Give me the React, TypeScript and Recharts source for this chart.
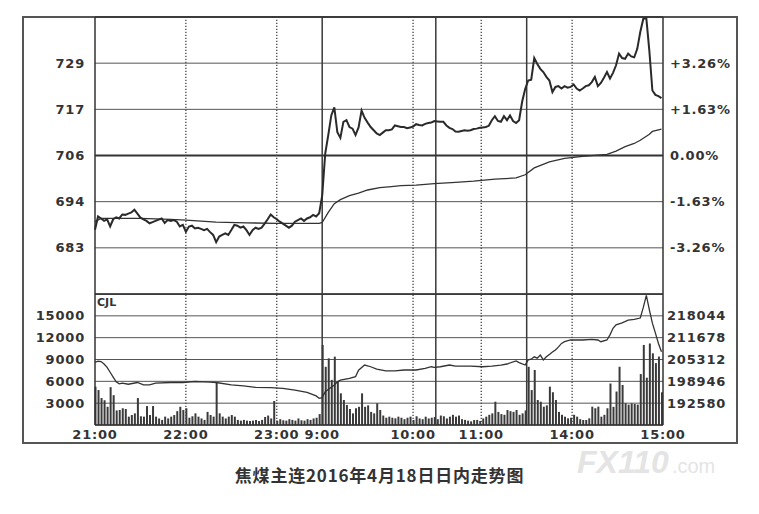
import { Bar, CartesianGrid, ComposedChart, Line, ReferenceLine, XAxis, YAxis } from 'recharts'

// minutes since 21:00, trading time only (night 150 min, morning 135, afternoon 90)
const xTicks = [0, 60, 120, 150, 210, 255, 315, 375]
const xTickLabels = ['21:00', '22:00', '23:00', '9:00', '10:00', '11:00', '14:00', '15:00']
const sessionBreaks = [150, 225, 285]
const hourLines = [60, 120, 210, 255, 315]

// price every 2 minutes
const nightPrice = [
  687.5, 690.8, 690.3, 689.7, 690.1, 688.3, 690.1, 690.6, 690.3, 691.3,
  691.2, 691.5, 691.8, 692.5, 691.5, 690.5, 690.1, 689.7, 689.1, 689.4,
  689.7, 690.0, 690.3, 689.2, 689.9, 689.7, 689.9, 689.5, 688.3, 688.7,
  687.0, 688.3, 688.5, 687.8, 688.0, 687.7, 687.4, 687.7, 686.9, 686.2,
  684.4, 685.8, 686.2, 686.6, 686.2, 687.4, 688.7, 688.5, 688.0, 688.3,
  687.4, 686.2, 687.4, 688.0, 687.7, 688.0, 689.0, 690.1, 691.3, 690.6,
  690.1, 689.5, 689.0, 688.5, 688.0, 688.5, 689.5, 689.9, 690.3, 689.7,
  690.3, 690.6, 691.2, 690.8, 691.6,
]
const dayPrice = [
  696.0, 706.5, 711.1, 716.0, 718.0, 711.8, 710.4, 714.4, 714.8, 713.1,
  712.7, 711.1, 713.0, 717.2, 715.4, 714.2, 713.1, 712.3, 711.5, 711.1,
  711.7, 712.3, 712.3, 712.5, 713.5, 713.3, 713.1, 713.1, 712.8, 713.0,
  713.2, 713.8, 713.6, 713.5, 713.9, 714.1, 714.2, 714.6, 714.5, 714.4,
  714.4, 713.5, 712.9, 712.6, 712.0, 711.9, 712.1, 712.3, 712.2, 712.3,
  712.6, 712.7, 712.9, 713.0, 713.1, 713.4, 714.8, 715.8, 714.6, 714.4,
  715.8, 714.8, 716.0, 714.6, 714.1, 714.8, 719.4, 722.6, 724.7, 724.9,
  730.3, 728.8, 727.6, 726.8, 725.6, 724.7, 721.8, 723.1, 723.3, 722.7,
  723.3, 722.9, 723.1, 723.7, 722.7, 722.2, 722.7, 723.3, 723.5, 724.3,
  725.6, 723.3, 724.1, 725.4, 726.8, 725.2, 726.6, 728.5, 731.4, 730.3,
  730.1, 731.4, 730.7, 730.5, 732.6, 736.8, 740.1, 740.2, 732.0, 722.2,
  721.1, 720.8, 720.3,
]

// volume (CJL) every 2 minutes
const nightVolume = [
  5270, 4800, 3700, 3400, 2500, 5200, 4100, 2000, 2060, 2300,
  2200, 1150, 1370, 1600, 3700, 1200, 1150, 2600, 1370, 2600,
  1150, 900, 700, 1150, 900, 1150, 1370, 1900, 2500, 2060,
  2300, 1000, 1200, 1600, 1150, 900, 700, 1800, 1370, 1150,
  5770, 1600, 1150, 900, 1150, 1370, 1150, 700, 600, 700,
  600, 550, 600, 700, 550, 700, 1100, 1300, 900, 3300,
  600, 800, 650, 600, 800, 700, 600, 900, 650, 600,
  800, 700, 900, 1000, 1500,
]
const dayVolume = [
  11000, 8000, 9160, 6200, 9390, 6000, 4350, 3435, 2750, 2200,
  1600, 2300, 2500, 4350, 2500, 2700, 1800, 1600, 2977, 2061,
  1300, 1000, 1145, 1000, 916, 1145, 1000, 800, 1000, 1145,
  700, 1200, 900, 800, 1145, 900, 1000, 1100, 800, 1300,
  1200, 900, 1145, 1400, 1145, 1300, 800, 700, 600, 500,
  687, 700, 550, 900, 1145, 1400, 1600, 3200, 1800, 1500,
  1400, 2060, 1900, 1800, 2061, 1400, 1600, 2000, 8000, 4800,
  7560, 3435, 3200, 2519, 2700, 5267, 4500, 3435, 1800, 1400,
  1145, 916, 1000, 1400, 1145, 800, 687, 687, 916, 2519,
  2300, 2519, 1145, 1400, 2300, 5700, 2500, 4600, 8000, 5500,
  3000, 2800, 2977, 2900, 2800, 7000, 11000, 6500, 11200, 9850,
  8500, 9400, 4500,
]

// average price line
const avgMinutes = [
  0, 4, 30, 50, 60, 80, 100, 120, 148, 150, 154, 158, 162, 168, 174, 180, 188, 194, 202, 212,
  224, 238, 250, 264, 278, 284, 290, 300, 310, 322, 332, 338, 344, 350, 356, 360, 366, 368, 374,
]
const avgValues = [
  689.5, 690.3, 690.3, 690.1, 689.9, 689.4, 689.2, 689.1, 689.1, 689.3, 691.8, 694.0, 695.0, 696.0, 696.6, 697.4, 698.0, 698.2, 698.5, 698.6,
  699.0, 699.3, 699.6, 700.1, 700.4, 701.2, 702.9, 704.4, 705.3, 705.8, 706.1, 706.3, 707.1, 708.2, 709.0, 709.8, 711.3, 712.0, 712.6,
]

// open interest line
const oiMinutes = [
  0, 2, 4, 6, 8, 10, 12, 14, 16, 18,
  22, 28, 32, 36, 40, 50, 58, 66, 76, 80,
  90, 98, 106, 116, 124, 132, 140, 146, 148, 150,
  152, 158, 160, 162, 168, 172, 174, 178, 182, 186,
  192, 198, 204, 212, 218, 222, 224, 228, 234, 238,
  242, 248, 256, 262, 268, 272, 278, 280, 284, 286,
  288, 290, 292, 294, 296, 298, 300, 302, 304, 306,
  308, 310, 314, 322, 328, 332, 334, 338, 340, 342,
  344, 348, 352, 356, 360, 362, 364, 366, 368, 370,
  372, 374,
]
const oiValues = [
  204500, 204800, 204700, 204000, 203000, 201600, 200200, 198800, 198200, 198400,
  198100, 198600, 197900, 197900, 198400, 198600, 198600, 198900, 198700, 198600,
  197900, 197600, 197200, 197100, 196900, 196400, 195700, 194700, 194000, 194200,
  195900, 197900, 198800, 199300, 199800, 200300, 202200, 203700, 203200, 202500,
  202000, 202000, 202250, 202250, 202700, 203200, 203000, 203200, 203700, 203400,
  203400, 203400, 203200, 203400, 203700, 204000, 204900, 204400, 203700, 205200,
  205400, 206100, 205700, 206600, 205200, 206100, 206800, 207500, 208100, 209000,
  210000, 210500, 211000, 211000, 211200, 211000, 210500, 211000, 212500, 214400,
  215400, 216000, 216800, 217000, 217400, 220500, 224000, 219800, 215900, 213000,
  210000, 207600,
]

const prevClose = 706
const priceDomain = [671.47, 740.53]
const priceTicks = [682.98, 694.49, 706, 717.51, 729.02]
const priceTickLabels = ['683', '694', '706', '717', '729']
const pctTickLabels = ['-3.26%', '-1.63%', '0.00%', '+1.63%', '+3.26%']
const volumeTicks = [3000, 6000, 9000, 12000, 15000]
const oiDomain = [186214, 224410]
const oiTicks = [192580, 198946, 205312, 211678, 218044]

const prices = [...nightPrice, ...dayPrice]
const volumes = [...nightVolume, ...dayVolume]
const rows = prices.map((price, i) => ({ t: i * 2, price, volume: volumes[i] }))
const avgData = avgMinutes.map((t, i) => ({ t, avg: avgValues[i] }))
const oiData = oiMinutes.map((t, i) => ({ t, oi: oiValues[i] }))

const FONT = '"DejaVu Sans", sans-serif'
const tickStyle = { fontFamily: FONT, fontSize: 13, fontWeight: 'bold', fill: '#333', letterSpacing: 0.8 }
const GRID = '#555'

function verticalLines(yAxisId: string) {
  return [
    ...sessionBreaks.map((x) => (
      <ReferenceLine key={'s' + x} x={x} yAxisId={yAxisId} stroke="#3a3a3a" strokeWidth={1.5} />
    )),
    ...hourLines.map((x) => (
      <ReferenceLine key={'h' + x} x={x} yAxisId={yAxisId} stroke="#444" strokeWidth={1.3} strokeDasharray="1.3 1.7" />
    )),
    <ReferenceLine key="l" x={0} yAxisId={yAxisId} stroke="#333" strokeWidth={1.5} />,
    <ReferenceLine key="r" x={375} yAxisId={yAxisId} stroke="#333" strokeWidth={1.5} />,
  ]
}

export default function App() {
  return (
    <div style={{ position: 'absolute', left: 0, top: 0, width: 759, height: 514, background: '#fff', overflow: 'hidden' }}>
      <div style={{ position: 'absolute', left: 22, top: 16, width: 716, height: 428, border: '2px solid #555', boxSizing: 'border-box' }} />

      <div style={{ position: 'absolute', left: 0, top: 0 }}>
        <ComposedChart width={759} height={300} data={rows} margin={{ top: 17, right: 22, bottom: 6, left: 23 }}>
          <CartesianGrid yAxisId="price" vertical={false} stroke={GRID} strokeWidth={1} />
          <XAxis dataKey="t" type="number" domain={[0, 375]} hide />
          <YAxis
            yAxisId="price"
            domain={priceDomain}
            ticks={priceTicks}
            interval={0}
            allowDataOverflow
            width={72}
            axisLine={false}
            tickLine={false}
            tickSize={0}
            tickMargin={10}
            tick={tickStyle}
            tickFormatter={(v: number) => priceTickLabels[priceTicks.indexOf(v)]}
          />
          <YAxis
            yAxisId="pct"
            orientation="right"
            domain={priceDomain}
            ticks={priceTicks}
            interval={0}
            allowDataOverflow
            width={74}
            axisLine={false}
            tickLine={false}
            tickSize={0}
            tickMargin={7}
            tick={tickStyle}
            tickFormatter={(v: number) => pctTickLabels[priceTicks.indexOf(v)]}
          />
          <ReferenceLine y={prevClose} yAxisId="price" stroke="#333" strokeWidth={2.2} />
          <ReferenceLine y={priceDomain[1]} yAxisId="price" stroke="#333" strokeWidth={1.5} />
          <ReferenceLine y={priceDomain[0]} yAxisId="price" stroke="#333" strokeWidth={1.5} />
          {verticalLines('price')}
          <Line data={avgData} dataKey="avg" yAxisId="price" stroke="#333" strokeWidth={1.3} dot={false} isAnimationActive={false} />
          <Line dataKey="price" yAxisId="price" stroke="#2a2a2a" strokeWidth={2} dot={false} isAnimationActive={false} />
        </ComposedChart>
      </div>

      <div style={{ position: 'absolute', left: 0, top: 294 }}>
        <ComposedChart width={759} height={160} data={rows} margin={{ top: 0, right: 22, bottom: 9, left: 23 }}>
          <CartesianGrid yAxisId="vol" vertical={false} stroke={GRID} strokeWidth={1} />
          <XAxis
            dataKey="t"
            type="number"
            domain={[0, 375]}
            ticks={xTicks}
            interval={0}
            height={20}
            axisLine={false}
            tickLine={false}
            tickSize={0}
            tickMargin={5}
            tick={tickStyle}
            tickFormatter={(v: number) => xTickLabels[xTicks.indexOf(v)]}
          />
          <YAxis
            yAxisId="vol"
            domain={[0, 18000]}
            ticks={volumeTicks}
            interval={0}
            width={72}
            axisLine={false}
            tickLine={false}
            tickSize={0}
            tickMargin={10}
            tick={tickStyle}
          />
          <YAxis
            yAxisId="oi"
            orientation="right"
            domain={oiDomain}
            ticks={oiTicks}
            interval={0}
            allowDataOverflow
            width={74}
            axisLine={false}
            tickLine={false}
            tickSize={0}
            tickMargin={4}
            tick={tickStyle}
          />
          <ReferenceLine y={0} yAxisId="vol" stroke="#333" strokeWidth={1.5} />
          <ReferenceLine y={18000} yAxisId="vol" stroke="#333" strokeWidth={1.5} />
          {verticalLines('vol')}
          <Bar dataKey="volume" yAxisId="vol" fill="#3a3a3a" barSize={2} isAnimationActive={false} />
          <Line data={oiData} dataKey="oi" yAxisId="oi" stroke="#333" strokeWidth={1.3} dot={false} isAnimationActive={false} />
        </ComposedChart>
      </div>

      <div style={{ position: 'absolute', left: 97, top: 297, fontFamily: FONT, fontSize: 11, fontWeight: 'bold', color: '#333', lineHeight: '12px' }}>
        CJL
      </div>

      <div style={{ position: 'absolute', left: 577, top: 446, display: 'flex', alignItems: 'baseline', color: '#e4e4e4', fontFamily: '"Liberation Sans", sans-serif' }}>
        <span style={{ fontSize: 32, fontWeight: 'bold', lineHeight: '32px', fontStyle: 'italic' }}>FX110</span>
        <span style={{ fontSize: 20, marginLeft: 3, lineHeight: '20px' }}>.com</span>
      </div>

      <div style={{ position: 'absolute', left: 0, top: 466, width: 759, textAlign: 'center', fontFamily: '"Noto Sans CJK SC", sans-serif', fontSize: 17, fontWeight: 'bold', color: '#333', letterSpacing: 0.8, lineHeight: '18px' }}>
        焦煤主连2016年4月18日日内走势图
      </div>
    </div>
  )
}
